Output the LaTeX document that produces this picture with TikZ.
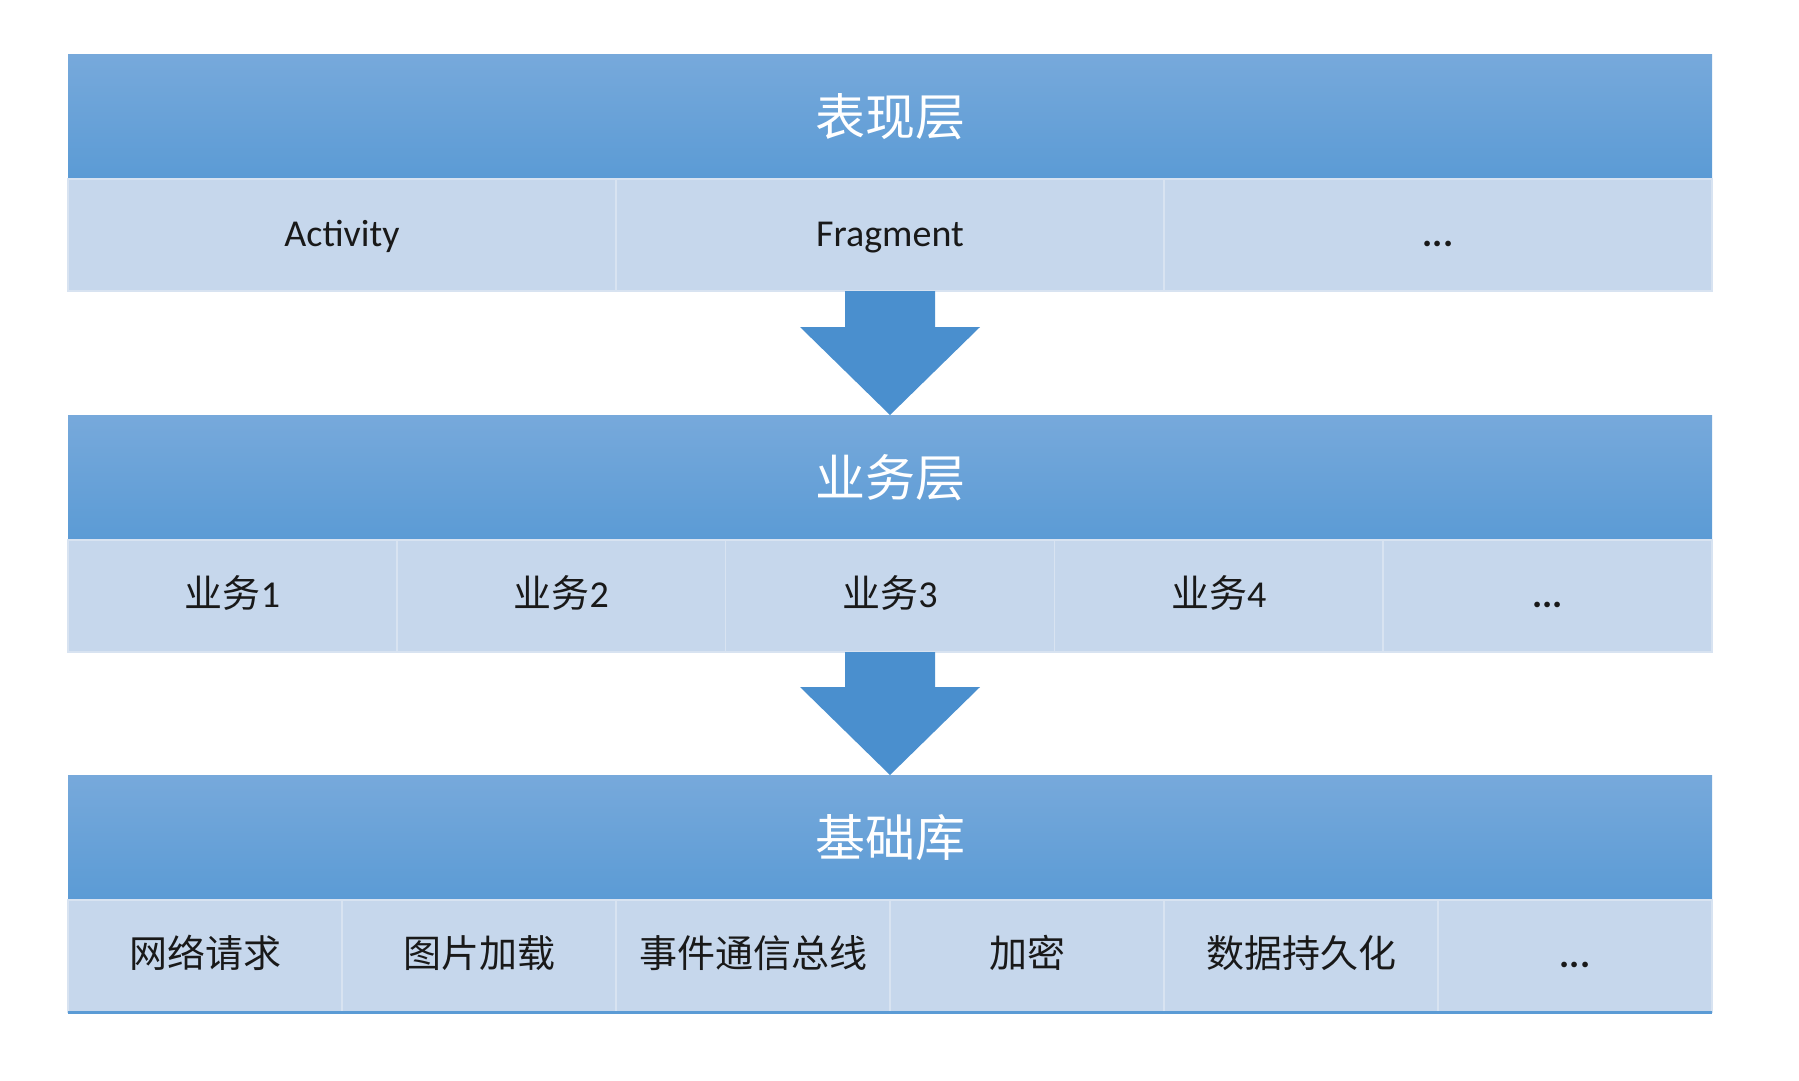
\documentclass[tikz,border=0pt]{standalone}
\usepackage{fontspec}
\setmainfont{Carlito}
\newfontfamily\cjk{Noto Sans CJK SC}
\usetikzlibrary{positioning,calc}
\definecolor{layertop}{HTML}{77A9DB}
\definecolor{layerbot}{HTML}{5B9BD5}
\definecolor{cellbg}{HTML}{C6D7EC}
\definecolor{cellline}{HTML}{D8E3F1}
\definecolor{arrowblue}{HTML}{4A8FCE}

\begin{document}
\begin{tikzpicture}[x=1pt,y=-1pt,
  layer/.style={top color=layertop,bottom color=layerbot,anchor=north west,
                minimum width=1644pt,minimum height=125pt,inner sep=0pt,outer sep=0pt,
                text=white,font=\cjk\fontsize{50}{60}\selectfont},
  cell/.style={fill=cellbg,draw=cellline,line width=1.5pt,anchor=north west,
               minimum height=112pt,inner sep=0pt,outer sep=0pt,text=black!90,
               text height=30pt,text depth=8pt,
               font=\fontsize{38}{46}\selectfont},
  wide/.style={cell,minimum width=548pt},
  mid/.style={cell,minimum width=328.8pt},
  narrow/.style={cell,minimum width=274pt},
  blockarrow/.style={fill=arrowblue}]
\useasboundingbox (0,0) rectangle (1799,1080);
% presentation layer
\node[layer] (H1) at (68,54) {表现层};
\node[wide,below=0pt of H1.south west,anchor=north west] (a1) {Activity};
\node[wide,right=0pt of a1] (a2) {Fragment};
\node[wide,right=0pt of a2] (a3) {\textbf{...}};
% business layer
\node[layer] (H2) at (68,415) {业务层};
\node[mid,below=0pt of H2.south west,anchor=north west] (b1) {{\cjk 业务}1};
\node[mid,right=0pt of b1] (b2) {{\cjk 业务}2};
\node[mid,right=0pt of b2] (b3) {{\cjk 业务}3};
\node[mid,right=0pt of b3] (b4) {{\cjk 业务}4};
\node[mid,right=0pt of b4] (b5) {\textbf{...}};
% base libraries
\node[layer] (H3) at (68,775) {基础库};
\node[narrow,below=0pt of H3.south west,anchor=north west] (c1) {\cjk 网络请求};
\node[narrow,right=0pt of c1] (c2) {\cjk 图片加载};
\node[narrow,right=0pt of c2] (c3) {\cjk 事件通信总线};
\node[narrow,right=0pt of c3] (c4) {\cjk 加密};
\node[narrow,right=0pt of c4] (c5) {\cjk 数据持久化};
\node[narrow,right=0pt of c5] (c6) {\textbf{...}};
\draw[layerbot,line width=3pt] (c1.south west) -- (c6.south east);
% block arrows
\fill[blockarrow] ($(a2.south)+(-45,0)$) -- ($(a2.south)+(45,0)$) |- ($(H2.north)+(90,-88)$)
  -- (H2.north) -- ($(H2.north)+(-90,-88)$) -| cycle;
\fill[blockarrow] ($(b3.south)+(-45,0)$) -- ($(b3.south)+(45,0)$) |- ($(H3.north)+(90,-88)$)
  -- (H3.north) -- ($(H3.north)+(-90,-88)$) -| cycle;
\end{tikzpicture}
\end{document}
